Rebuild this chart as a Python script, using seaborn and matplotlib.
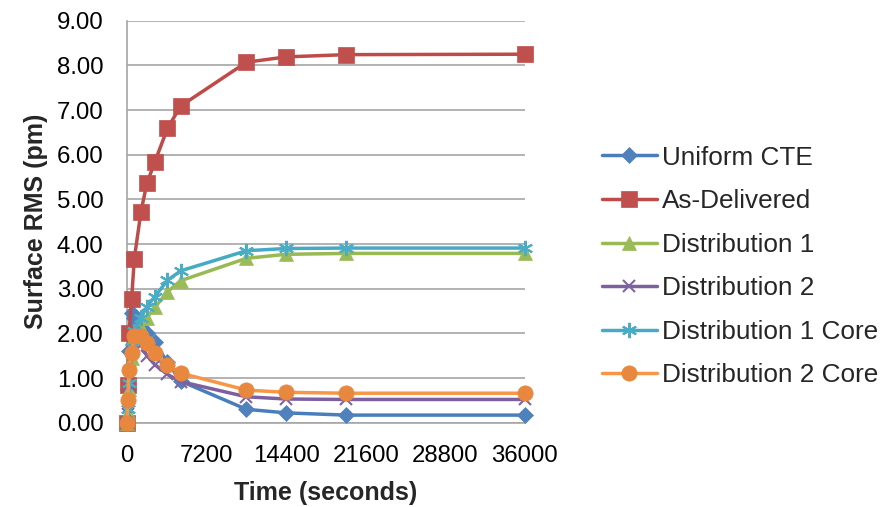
import matplotlib
matplotlib.use('Agg')
import matplotlib.pyplot as plt
import seaborn as sns
import pandas as pd

# time points (seconds), shared by all series
times = [0, 60, 180, 420, 660, 1260, 1800, 2520, 3660, 4860, 10800, 14400, 19800, 36000]

uniform_cte = [0.00, 0.75, 1.60, 2.45, 2.35, 2.15, 2.00, 1.80, 1.35, 0.93, 0.30, 0.22, 0.17, 0.17]
as_delivered = [0.00, 0.84, 2.00, 2.77, 3.67, 4.72, 5.36, 5.84, 6.59, 7.09, 8.07, 8.19, 8.24, 8.25]
distribution_1 = [0.00, 0.25, 0.75, 1.45, 1.95, 2.15, 2.35, 2.58, 2.93, 3.18, 3.68, 3.77, 3.79, 3.79]
distribution_2 = [0.00, 0.20, 0.85, 1.60, 2.00, 1.75, 1.50, 1.30, 1.08, 0.92, 0.58, 0.53, 0.52, 0.52]
distribution_1_core = [0.00, 0.30, 0.90, 1.70, 2.05, 2.35, 2.60, 2.82, 3.19, 3.40, 3.85, 3.90, 3.91, 3.91]
distribution_2_core = [0.00, 0.50, 1.18, 1.57, 1.93, 1.93, 1.78, 1.55, 1.29, 1.11, 0.73, 0.68, 0.66, 0.66]

series_names = ['Uniform CTE', 'As-Delivered', 'Distribution 1', 'Distribution 2',
                'Distribution 1 Core', 'Distribution 2 Core']
series_values = [uniform_cte, as_delivered, distribution_1, distribution_2,
                 distribution_1_core, distribution_2_core]

x_ticks = [0, 7200, 14400, 21600, 28800, 36000]
y_ticks = [0, 1, 2, 3, 4, 5, 6, 7, 8, 9]

colors = ['#4A7EBB', '#BE4B48', '#98B954', '#7D60A0', '#46AAC5', '#F79646']
marker_colors = ['#4F81BD', '#C0504D', '#9BBB59', '#8064A2', '#4BACC6', '#E8883F']
markers = ['D', 's', '^', 'x', (6, 2, 0), 'o']
marker_sizes = [8, 11, 10, 9, 11, 11]

rows = []
for name, vals in zip(series_names, series_values):
    for t, v in zip(times, vals):
        rows.append({'Time': t, 'RMS': v, 'Series': name})
df = pd.DataFrame(rows)

sns.set_theme(style='white')
plt.rcParams['font.family'] = ['Liberation Sans', 'DejaVu Sans']

fig = plt.figure(figsize=(8.86, 5.07), dpi=100)
ax = fig.add_axes([127 / 886, 1 - 422.7 / 507, (525 - 127) / 886, (422.7 - 20.7) / 507])

for i, name in enumerate(series_names):
    sub = df[df['Series'] == name]
    sns.lineplot(data=sub, x='Time', y='RMS', ax=ax, color=colors[i], lw=2.5,
                 marker=markers[i], markersize=marker_sizes[i],
                 markerfacecolor=marker_colors[i], markeredgecolor=marker_colors[i],
                 markeredgewidth=1.5 if markers[i] in ('x', (6, 2, 0)) else 0.5,
                 label=name, clip_on=False, zorder=3 + i)

ax.set_xlim(0, 36000)
ax.set_ylim(0, 9)
ax.set_xticks(x_ticks)
ax.set_xticklabels([str(t) for t in x_ticks])
ax.set_yticks(y_ticks)
ax.set_yticklabels([f'{v:.2f}' for v in y_ticks])
ax.tick_params(axis='both', labelsize=17.3, length=0, colors='black')
ax.tick_params(axis='x', pad=16)
ax.tick_params(axis='y', pad=17)

ax.yaxis.grid(True, color='#A6A6A6', lw=1.2)
ax.xaxis.grid(False)
for s in ['top', 'right']:
    ax.spines[s].set_visible(False)
for s in ['left', 'bottom']:
    ax.spines[s].set_color('#A6A6A6')
    ax.spines[s].set_linewidth(1.2)

ax.set_xlabel('Time (seconds)', fontsize=18, fontweight='bold', labelpad=10)
ax.set_ylabel('Surface RMS (pm)', fontsize=18, fontweight='bold', labelpad=6)

leg = ax.legend(loc='center left', bbox_to_anchor=(602 / 886, 1 - 266.5 / 507),
                bbox_transform=fig.transFigure, frameon=False, fontsize=18.8,
                handlelength=2.1, handletextpad=0.2, labelspacing=0.75,
                borderpad=0, borderaxespad=0)

fig.savefig('out.png', dpi=100)
